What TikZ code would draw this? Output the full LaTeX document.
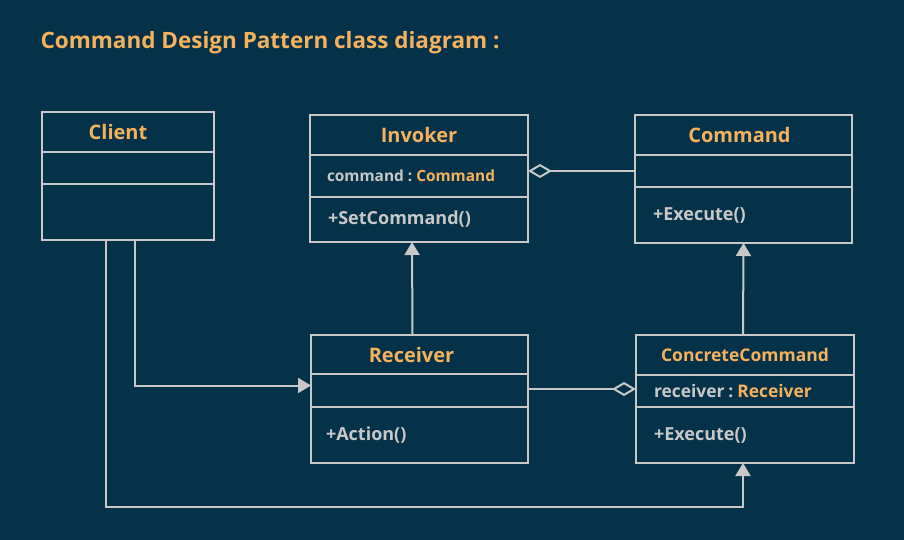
\documentclass[tikz,border=0pt]{standalone}
\usepackage{fontspec}
\setmainfont{Open Sans}
\usetikzlibrary{positioning,arrows.meta}

\definecolor{bgnavy}{RGB}{5,50,73}
\definecolor{lgray}{RGB}{200,200,200}
\definecolor{tangerine}{RGB}{245,178,94}

\begin{document}
\begin{tikzpicture}[x=1pt,y=-1pt,
    namebox/.style={draw=lgray,line width=2.5pt,outer sep=0pt,minimum width=#1,minimum height=40pt,
        text=tangerine,font=\bfseries\fontsize{20}{24}\selectfont},
    partbox/.style={draw=lgray,line width=2.5pt,outer sep=0pt,inner xsep=18pt,text width=#1,align=left,
        text=lgray,font=\bfseries\fontsize{18}{21}\selectfont},
    link/.style={draw=lgray,line width=2pt},
    realize/.style={link,-{Triangle[width=15pt,length=13pt]}},
    aggr/.style={link,{Diamond[open,width=14pt,length=24pt]}-}]

\fill[bgnavy] (0,0) rectangle (904,540);
\useasboundingbox (0,0) rectangle (904,540);

\node[anchor=base west,text=tangerine,font=\bfseries\fontsize{22.5}{26}\selectfont] (title) at (37,49)
    {Command Design Pattern class diagram :};

% classes
\node[namebox=172pt,anchor=north] (cl) at (128,112) {\hspace*{-20pt}Client};
\node[partbox=136pt,minimum height=32pt,below=0pt of cl] (clA) {};
\node[partbox=136pt,minimum height=56pt,below=0pt of clA] (clO) {};

\node[namebox=218pt,anchor=north] (inv) at (419,115) {Invoker};
\node[partbox=184pt,inner xsep=17pt,minimum height=42pt,below=0pt of inv,font=\bfseries\fontsize{15.4}{18}\selectfont] (invA)
    {command\hspace{4pt}:\hspace{4pt}\textcolor{tangerine}{Command}};
\node[partbox=182pt,minimum height=45pt,below=0pt of invA] (invO) {+SetCommand()};

\node[namebox=217pt,anchor=north] (cmd) at (743.5,115) {\hspace*{-8pt}Command};
\node[partbox=181pt,minimum height=32pt,below=0pt of cmd] (cmdA) {};
\node[partbox=181pt,minimum height=56pt,below=0pt of cmdA] (cmdO) {+Execute()};

\node[namebox=217pt,minimum height=39pt,anchor=north] (rcv) at (419.5,335) {\hspace*{-16pt}Receiver};
\node[partbox=187pt,inner xsep=15pt,minimum height=33pt,below=0pt of rcv] (rcvA) {};
\node[partbox=187pt,inner xsep=15pt,minimum height=56pt,below=0pt of rcvA] (rcvO) {+Action()};

\node[namebox=218pt,anchor=north,font=\bfseries\fontsize{17.5}{21}\selectfont] (cc) at (745,335) {ConcreteCommand};
\node[partbox=182pt,minimum height=32pt,below=0pt of cc,font=\bfseries\fontsize{17.4}{20}\selectfont] (ccA)
    {receiver\hspace{4pt}:\hspace{4pt}\textcolor{tangerine}{Receiver}};
\node[partbox=182pt,minimum height=56pt,below=0pt of ccA] (ccO) {+Execute()};

% relations
\draw[realize] ([xshift=-7pt]rcv.north) -- ([xshift=-7pt]invO.south);
\draw[realize] ([xshift=-2pt]cc.north) -- (cmdO.south);
\draw[aggr] (invA.east |- cmdA.west) -- (cmdA.west);
\draw[aggr] ([yshift=2pt]ccA.west) -- ([yshift=2pt]ccA.west -| rcvA.east);
\draw[realize] ([xshift=7pt]clO.south) |- ([yshift=5pt]rcvA.west);
\draw[realize] ([xshift=-22pt]clO.south) -- ++(0,267) -| ([xshift=-2pt]ccO.south);

\end{tikzpicture}
\end{document}
